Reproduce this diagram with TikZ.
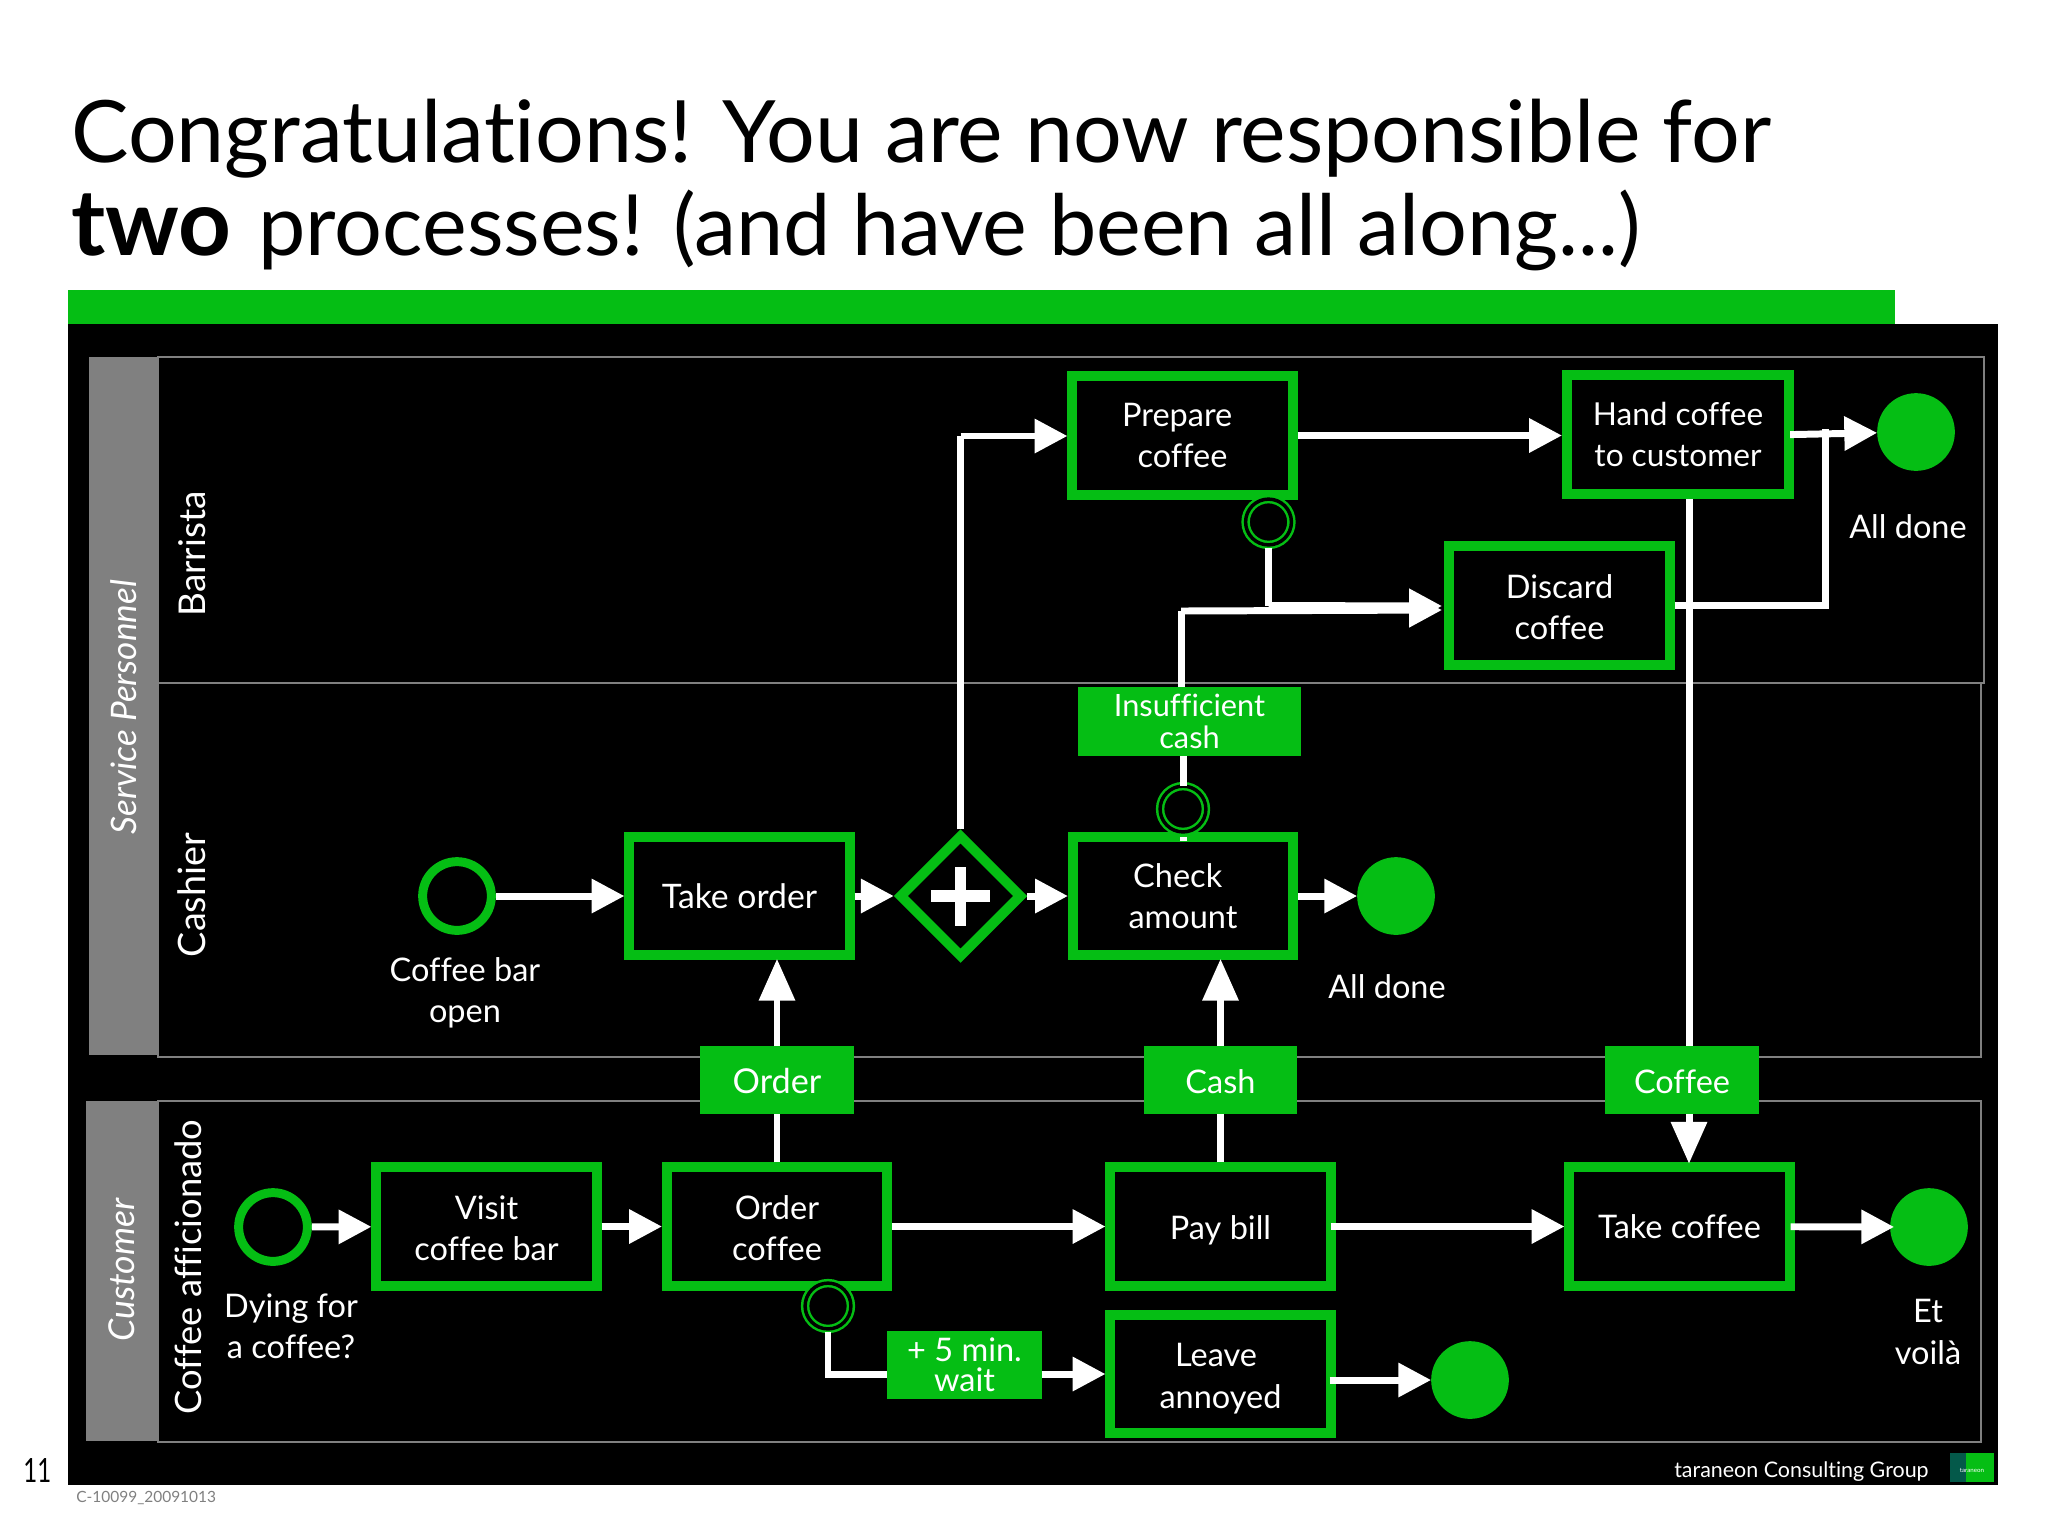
\documentclass[tikz,border=0pt]{standalone}
\usepackage{fontspec}
\setmainfont{Lato}[Ligatures=NoCommon]
\usetikzlibrary{arrows.meta,shapes.geometric,calc}
\definecolor{bgreen}{HTML}{05BE14}
\definecolor{lanegray}{HTML}{808080}
\definecolor{logodark}{HTML}{04594A}
\newdimen\pxu \pxu=0.56693pt
\newcommand{\lowtxt}[2]{\raisebox{#1}[\height][\depth]{\begin{tabular}{@{}c@{}}#2\end{tabular}}}
\newcommand{\lowline}[2]{\raisebox{#1}[\height][\depth]{#2}}
\tikzset{
  x=0.02cm,y=-0.02cm,
  txt/.style={text=white,align=center,inner sep=0pt,font=\fontsize{18.5}{23.5}\selectfont},
  taskbox/.style={rectangle,draw=bgreen,line width=10\pxu,fill=black,minimum width=221\pxu,minimum height=119\pxu,inner sep=0pt,text=white,align=center,font=\fontsize{18.5}{23.5}\selectfont},
  msg/.style={rectangle,fill=bgreen,inner sep=0pt,outer sep=0pt,text=white,align=center,font=\fontsize{18.5}{17}\selectfont},
  startev/.style={circle,draw=bgreen,line width=9\pxu,fill=black,minimum size=69\pxu,inner sep=0pt},
  endev/.style={circle,fill=bgreen,minimum size=78\pxu,inner sep=0pt,outer sep=0pt},
  interev/.style={circle,draw=bgreen,line width=2.5\pxu,double=black,double distance=3.5\pxu,fill=black,minimum size=46\pxu,inner sep=0pt,outer sep=0pt},
  gate/.style={diamond,draw=bgreen,line width=10\pxu,fill=black,minimum width=124\pxu,minimum height=124\pxu,inner sep=0pt,aspect=1},
  flow/.style={draw=white,line width=7\pxu,-{Triangle[length=18.7pt,width=18.7pt]}},
  flowup/.style={draw=white,line width=7\pxu,shorten >=-1.5\pxu,-{Triangle[length=23.8pt,width=19.8pt]}},
  plainflow/.style={draw=white,line width=7\pxu},
  lane/.style={draw=lanegray,line width=2.5\pxu},
  lanehead/.style={fill=lanegray,inner sep=0pt,outer sep=0pt},
}
\begin{document}
\begin{tikzpicture}
\useasboundingbox (0,0) rectangle (2048,1536);
\fill[white] (0,0) rectangle (2048,1536);
\fill[bgreen] (68,290) rectangle (1895,324);
\fill[black] (68,324) rectangle (1998,1485);
% title
\node[anchor=base west,inner sep=0pt,font=\fontsize{49}{60}\selectfont] (t1) at (71,162) {Congratulations! You are now responsible for};
\node[anchor=base west,inner sep=0pt,font=\fontsize{48.1}{60}\selectfont] (t2) at (71,255) {{\fontsize{52.4}{60}\selectfont\textbf{two}}\hspace{3pt} processes! (and have been all along...)};
% lanes
\draw[lane] (158,357) rectangle (1984,683);
\draw[lane] (158,683) rectangle (1981,1057);
\draw[lane] (158,1101) rectangle (1981,1442);
\fill[lanehead] (89,357) rectangle (158,1055);
\fill[lanehead] (86,1101) rectangle (157,1441);
\node[txt,rotate=90,font=\fontsize{20}{24}\selectfont\itshape] (lsp) at (124,707) {Service Personnel};
\node[txt,rotate=90,font=\fontsize{21}{24}\selectfont] (lb) at (192,554) {Barrista};
\node[txt,rotate=90,font=\fontsize{21.5}{24}\selectfont] (lc) at (192,895) {Cashier};
\node[txt,rotate=90,font=\fontsize{20.3}{24}\selectfont\itshape] (lcu) at (122,1270) {Customer};
\node[txt,rotate=90,font=\fontsize{20.7}{24}\selectfont] (lca) at (188,1267) {Coffee afficionado};
% tasks
\node[taskbox] (prep) at (1182.5,435.5) {Prepare\hspace*{6pt}\\coffee};
\node[taskbox,minimum width=223\pxu,font=\fontsize{18}{23.5}\selectfont] (hand) at (1678,434.5) {Hand coffee\\to customer};
\node[taskbox] (disc) at (1559.5,605.5) {\lowtxt{-3pt}{Discard\\coffee}};
\node[taskbox] (check) at (1183,896) {Check\hspace*{6pt}\\amount};
\node[taskbox,font=\fontsize{19.2}{23.5}\selectfont] (take) at (739.5,896) {Take order};
\node[gate] (gw) at (960.5,896) {};
\fill[white] (931,890) rectangle (990,902);
\fill[white] (955,867) rectangle (966,926);
\node[taskbox] (visit) at (486.5,1226.5) {\lowtxt{-3pt}{Visit\\coffee bar}};
\node[taskbox] (ocof) at (777,1226.5) {\lowtxt{-3pt}{Order\\coffee}};
\node[taskbox] (pay) at (1220.5,1226.5) {\lowline{-2.2pt}{Pay bill}};
\node[taskbox] (tcof) at (1679.5,1226.5) {Take coffee};
\node[taskbox] (leave) at (1220.5,1374) {\lowtxt{-3pt}{Leave\hspace*{5pt}\\annoyed}};
% events
\node[startev] (s1) at (457,896) {};
\node[startev] (s2) at (273,1227) {};
\node[endev] (e1) at (1916,432) {};
\node[endev] (e2) at (1396,896) {};
\node[endev] (e3) at (1929,1227) {};
\node[endev] (e4) at (1470,1380) {};
\node[interev] (i1) at (1268.5,522) {};
\node[interev] (i2) at (1183,809) {};
\node[interev] (i3) at (828,1306) {};
% messages
\node[msg,minimum width=154\pxu,minimum height=68\pxu,font=\fontsize{19.5}{17}\selectfont] (mo) at (777,1080) {\lowline{-0.8pt}{Order}};
\node[msg,minimum width=153\pxu,minimum height=68\pxu] (mc) at (1220.5,1080) {\lowline{-0.8pt}{Cash}};
\node[msg,minimum width=154\pxu,minimum height=68\pxu] (mf) at (1682,1080) {\lowline{-0.8pt}{Coffee}};
\node[msg,minimum width=223\pxu,minimum height=69\pxu,font=\fontsize{17.5}{18}\selectfont] (mi) at (1189.5,721.5) {Insufficient\\cash};
\node[msg,minimum width=155\pxu,minimum height=68\pxu] (mw) at (964.5,1365) {+ 5 min.\\wait};
% helper points
\coordinate (upx) at (960.5,436);
\coordinate (mrg) at (1825,429);
\coordinate (cofx) at (1689,1000);
\coordinate (dj1) at (1268.5,605.5);
\coordinate (dj2) at (1181,611);
\coordinate (dt1) at (1442,606);
\coordinate (dt2) at (1442,610);
\coordinate (wj) at (828,1374);
% connectors
\draw[flow] (s1) -- (take);
\draw[flow] (take) -- (gw);
\draw[flow] (gw) -- (check);
\draw[flow] (check) -- (e2);
\draw[plainflow] (gw.north) -- (upx);
\draw[flow] (upx) -- (prep.west |- upx);
\draw[flow] (prep.east) -- (prep.east -| hand.west);
\draw[flow,shorten <=-4\pxu] (hand.east) -- (e1);
\draw[plainflow,line join=miter] (disc.east) -- (mrg |- disc.east) -- (mrg);
\draw[plainflow,shorten <=3\pxu] (i1.south) -- (dj1);
\draw[flow] (dj1) -- (dt1);
\draw[plainflow] (mi.north -| dj2) -- (dj2);
\draw[flow] (dj2) -- (dt2);
\draw[plainflow] (i2.north) -- (mi.south -| i2.north);
\draw[plainflow] ($(check.north)+(0,5)$) -- ($(check.north)+(0,9)$);
\draw[plainflow] (hand.south -| cofx) -- (cofx |- mf.north);
\draw[flowup] (cofx |- mf.south) -- (cofx |- tcof.north);
\draw[plainflow] (ocof.north) -- (mo.south);
\draw[flowup] (mo.north) -- (mo.north |- take.south);
\draw[plainflow] (pay.north) -- (mc.south);
\draw[flowup] (mc.north) -- (mc.north |- check.south);
\draw[flow] (s2) -- (visit);
\draw[flow] (visit) -- (ocof);
\draw[flow] (ocof) -- (pay);
\draw[flow,shorten <=-5\pxu] (pay) -- (tcof);
\draw[flow,shorten <=-4\pxu,shorten >=-4\pxu] (tcof) -- (e3);
\draw[plainflow,shorten <=3\pxu,line join=miter] (i3.south) -- (wj) -- (mw.west |- wj);
\draw[flow] (mw.east |- wj) -- (leave.west |- wj);
\draw[flow,shorten <=-6\pxu] (leave.east |- e4) -- (e4);
% free labels
\node[txt] (a1) at (465,993) {Coffee bar\\open};
\node[txt] (a2) at (1387,987) {All done};
\node[txt] (a3) at (1908,527) {All done};
\node[txt] (a4) at (291,1326) {Dying for\\a coffee?};
\node[txt] (a5) at (1928,1332) {Et\\voilà};
% footer
\node[anchor=base west,inner sep=0pt,font=\fontsize{19}{22}\selectfont] (pg) at (23,1482) {\scalebox{0.72}[1]{11}};
\node[anchor=west,inner sep=0pt,text=lanegray,font=\fontsize{8.8}{11}\selectfont] (cid) at (76,1498) {C-10099\_20091013};
\node[anchor=east,inner sep=0pt,text=white,font=\fontsize{12.2}{15}\selectfont] (tcg) at (1929,1472) {taraneon Consulting Group};
\fill[bgreen] (1950,1453) rectangle (1994,1482);
\fill[logodark] (1950,1453) rectangle (1966,1482);
\node[text=white,inner sep=0pt,font=\fontsize{3.5}{4}\selectfont] (lg) at (1972,1470) {taraneon};
\end{tikzpicture}
\end{document}
